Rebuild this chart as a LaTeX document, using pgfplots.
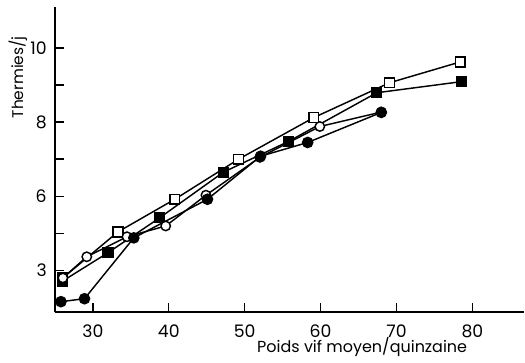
\documentclass[border=0pt]{standalone}
\usepackage{pgfplots}
\pgfplotsset{compat=1.18}
\usepackage{fontspec}
\setmainfont{Poppins}
\begin{document}
\begin{tikzpicture}
\begin{axis}[
  scale only axis,
  width=258.5pt, height=168.3pt,
  xmin=25, xmax=86.8, ymin=2.87, ymax=11.1,
  axis lines=left,
  axis line style={line width=1.1pt,-},
  every tick/.style={line width=0.8pt,black},
  tick align=inside,
  major tick length=5pt,
  xtick={30,40,50,60,70,80},
  ytick={4,5,6,7,8,9,10},
  yticklabels={3,,6,,8,,10},
  /pgf/number format/assume math mode=true,
  tick label style={font=\fontsize{9.5}{11}\selectfont},
  xticklabel style={inner sep=0pt, text depth=0pt, anchor=north, yshift=-6.4pt},
  yticklabel style={xshift=-1pt},
  xlabel={Poids vif moyen/quinzaine},
  ylabel={Thermies/j},
  xlabel style={at={(rel axis cs:0.655,-0.080)},anchor=north,inner sep=0pt,font=\fontsize{8.8}{10}\selectfont},
  ylabel style={at={(rel axis cs:-0.079,0.77)},anchor=center,font=\fontsize{8.5}{10}\selectfont},
  clip=false,
]
\path (rel axis cs:-0.117,-0.163) rectangle (rel axis cs:1,1.023);
% filled squares
\addplot[black, line width=0.8pt, mark=square*, mark size=2.7pt, mark options={solid,fill=black}] coordinates {
(26.05,3.72) (32.0,4.48) (38.8,5.42) (47.2,6.65) (55.8,7.48) (67.4,8.79) (78.6,9.09)};
% open squares
\addplot[black, line width=0.8pt, mark=square*, mark size=2.7pt, mark options={solid,fill=white}] coordinates {
(26.05,3.80) (33.3,5.04) (40.8,5.92) (49.2,7.0) (59.1,8.12) (69.1,9.06) (78.4,9.62)};
% open circles
\addplot[black, line width=0.8pt, mark=*, mark size=2.6pt, mark options={solid,fill=white}] coordinates {
(26.05,3.80) (29.2,4.37) (34.5,4.91) (39.6,5.20) (44.9,6.03) (52.0,7.05) (59.9,7.88) (68.0,8.27)};
% filled circles
\addplot[black, line width=0.8pt, mark=*, mark size=2.8pt, mark options={solid,fill=black}] coordinates {
(25.8,3.16) (28.9,3.24) (35.4,4.88) (45.1,5.92) (52.1,7.08) (58.3,7.45) (68.0,8.26)};
\end{axis}
\end{tikzpicture}
\end{document}
